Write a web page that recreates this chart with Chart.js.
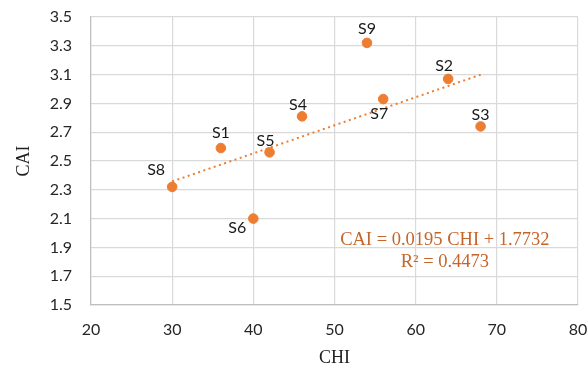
<!DOCTYPE html>
<html lang="en">
<head>
    <meta charset="UTF-8">
    <title>CAI vs CHI</title>
    <script src="https://cdn.jsdelivr.net/npm/chart.js"></script>
    <style>
        html, body { margin: 0; padding: 0; background: #fff; }
        #wrap { width: 588px; height: 367px; }
    </style>
</head>
<body>
    <div id="wrap"><canvas id="caiChart" width="588" height="367"></canvas></div>

    <script>
        // sample data
        const sampleNames = ['S1', 'S2', 'S3', 'S4', 'S5', 'S6', 'S7', 'S8', 'S9'];
        const chiValues = [36, 64, 68, 46, 42, 40, 56, 30, 54];
        const caiValues = [2.59, 3.07, 2.74, 2.81, 2.56, 2.10, 2.93, 2.32, 3.32];

        // linear trendline ends
        const trendChi = [30, 68];
        const trendCai = [2.358, 3.099];

        const xTicks = [20, 30, 40, 50, 60, 70, 80];
        const yTicks = ['1.5', '1.7', '1.9', '2.1', '2.3', '2.5', '2.7', '2.9', '3.1', '3.3', '3.5'];

        const equationLines = ['CAI = 0.0195 CHI + 1.7732', 'R\u00b2 = 0.4473'];

        const orange = '#ED7D31';
        const tickFont = { family: 'Lato', size: 16 };

        // where each name sits relative to its dot
        const labelOffsets = {
            S1: [0, -15], S2: [-4, -13], S3: [0, -12], S4: [-4, -12], S5: [-4, -12],
            S6: [-16, 9], S7: [-4, 15], S8: [-16, -17], S9: [0, -14]
        };

        const pointLabels = {
            id: 'pointLabels',
            afterDatasetsDraw(chart) {
                const ctx = chart.ctx;
                const meta = chart.getDatasetMeta(1);
                ctx.save();
                ctx.font = '16px Lato';
                ctx.fillStyle = '#1a1a1a';
                ctx.textAlign = 'center';
                ctx.textBaseline = 'middle';
                meta.data.forEach((pt, i) => {
                    const name = sampleNames[i];
                    const off = labelOffsets[name];
                    ctx.fillText(name, pt.x + off[0], pt.y + off[1]);
                });
                ctx.restore();
            }
        };

        const equationText = {
            id: 'equationText',
            afterDatasetsDraw(chart) {
                const ctx = chart.ctx;
                const x = chart.scales.x.getPixelForValue(63.6);
                const y = chart.scales.y.getPixelForValue(1.875);
                ctx.save();
                ctx.font = '18.5px "Liberation Serif"';
                ctx.fillStyle = '#C5652A';
                ctx.textAlign = 'center';
                ctx.textBaseline = 'middle';
                ctx.fillText(equationLines[0], x, y - 11);
                ctx.fillText(equationLines[1], x, y + 11);
                ctx.restore();
            }
        };

        const ctx = document.getElementById('caiChart').getContext('2d');
        const chart = new Chart(ctx, {
            type: 'scatter',
            data: {
                datasets: [
                    {
                        label: 'Linear (CAI)',
                        type: 'line',
                        data: trendChi.map((x, i) => ({ x: x, y: trendCai[i] })),
                        borderColor: orange,
                        borderWidth: 2,
                        borderDash: [2, 3.5],
                        pointRadius: 0,
                        fill: false
                    },
                    {
                        label: 'CAI',
                        data: chiValues.map((x, i) => ({ x: x, y: caiValues[i] })),
                        backgroundColor: orange,
                        borderColor: orange,
                        pointRadius: 4.8,
                        pointHoverRadius: 4.8
                    }
                ]
            },
            options: {
                responsive: false,
                animation: false,
                layout: { padding: { top: 17, right: 10, left: 0, bottom: 0 } },
                plugins: {
                    legend: { display: false },
                    tooltip: { enabled: false }
                },
                scales: {
                    x: {
                        type: 'linear',
                        min: 20,
                        max: 80,
                        afterFit: s => { s.height = 62; s.paddingLeft = 0; s.paddingRight = 0; },
                        afterBuildTicks: s => { s.ticks = xTicks.map(v => ({ value: v })); },
                        ticks: { font: tickFont, color: '#262626', padding: 15, maxRotation: 0 },
                        grid: { color: '#D9D9D9', lineWidth: 1.2, drawTicks: false },
                        border: { color: '#BFBFBF', width: 1.2 },
                        title: {
                            display: true,
                            text: 'CHI',
                            font: { family: 'Liberation Serif', size: 18 },
                            color: '#222',
                            padding: { top: 0, bottom: -2 }
                        }
                    },
                    y: {
                        min: 1.5,
                        max: 3.5,
                        afterFit: s => { s.width = 91; s.paddingTop = 0; s.paddingBottom = 0; },
                        afterBuildTicks: s => { s.ticks = yTicks.map(v => ({ value: parseFloat(v) })); },
                        ticks: {
                            font: tickFont,
                            color: '#262626',
                            padding: 19,
                            callback: (v, i) => yTicks[i]
                        },
                        grid: { color: '#D9D9D9', lineWidth: 1.2, drawTicks: false },
                        border: { color: '#BFBFBF', width: 1.2 },
                        title: {
                            display: true,
                            text: 'CAI',
                            font: { family: 'Liberation Serif', size: 18 },
                            color: '#222',
                            padding: { top: 13, bottom: 0 }
                        }
                    }
                }
            },
            plugins: [pointLabels, equationText]
        });
    </script>
</body>
</html>
